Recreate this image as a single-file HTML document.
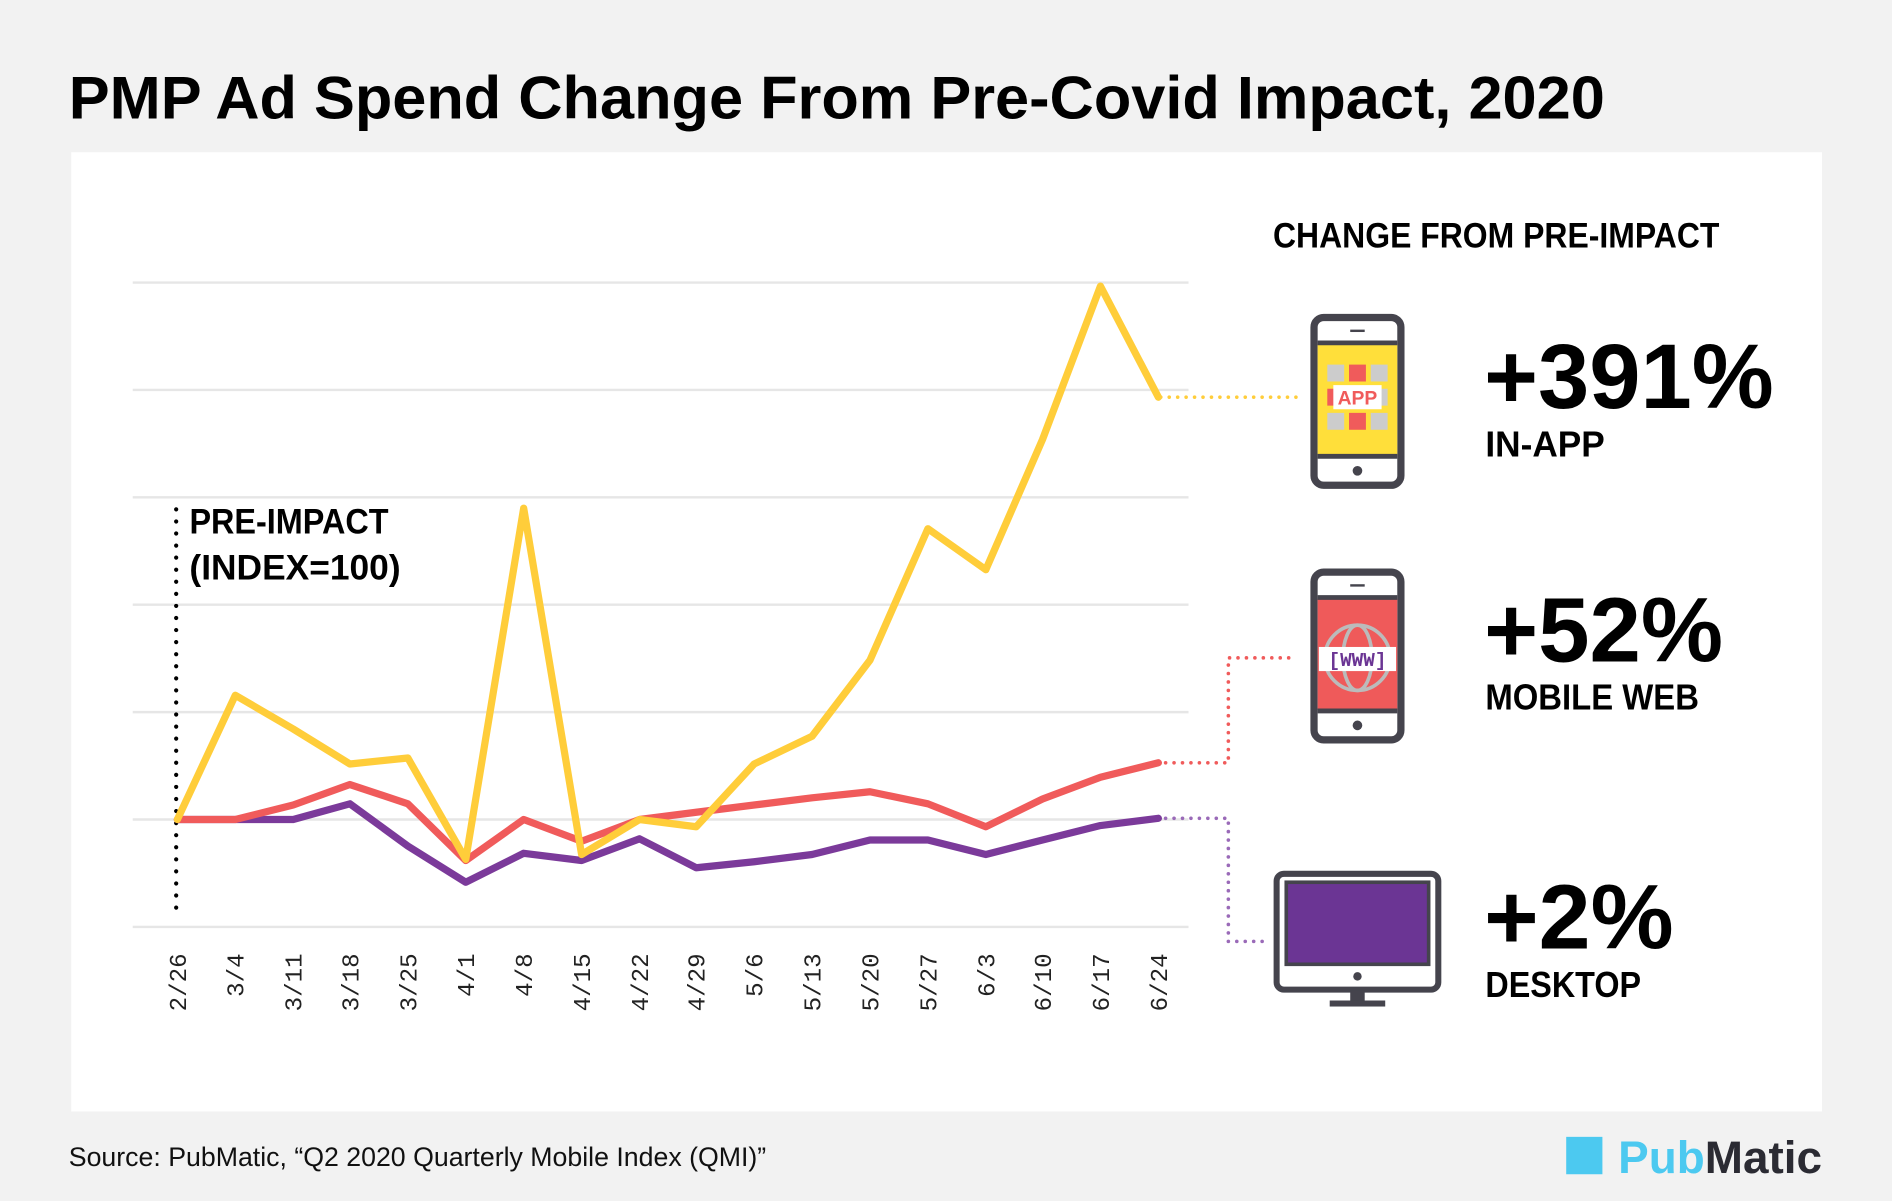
<!DOCTYPE html>
<html><head><meta charset="utf-8"><style>html,body{margin:0;padding:0;background:#f2f2f2}svg{display:block}</style></head>
<body>
<svg width="1892" height="1201" viewBox="0 0 1568 995" xmlns="http://www.w3.org/2000/svg" font-family="'Liberation Sans Narrow','Liberation Sans',sans-serif">
<rect width="1568" height="995" fill="#f2f2f2"/>
<text x="57" y="98" font-size="50" font-weight="bold" fill="#000" textLength="1273" lengthAdjust="spacingAndGlyphs">PMP Ad Spend Change From Pre-Covid Impact, 2020</text>
<rect x="59" y="126" width="1451" height="795" fill="#fff"/>
<g stroke="#e6e6e6" stroke-width="2">
<line x1="110" y1="234" x2="985" y2="234"/><line x1="110" y1="323" x2="985" y2="323"/><line x1="110" y1="412" x2="985" y2="412"/><line x1="110" y1="501" x2="985" y2="501"/><line x1="110" y1="590" x2="985" y2="590"/><line x1="110" y1="679" x2="985" y2="679"/><line x1="110" y1="768" x2="985" y2="768"/>
</g>
<line x1="146" y1="422" x2="146" y2="756" stroke="#000" stroke-width="3.5" stroke-dasharray="0 10" stroke-linecap="round"/>
<text x="157" y="442" font-size="29" font-weight="bold" textLength="165" lengthAdjust="spacingAndGlyphs">PRE-IMPACT</text>
<text x="157" y="480" font-size="29" font-weight="bold" textLength="175" lengthAdjust="spacingAndGlyphs">(INDEX=100)</text>
<g fill="none" stroke-width="6" stroke-linejoin="round" stroke-linecap="round">
<polyline stroke="#7b3a9a" points="147,679 195,679 243,679 290,666 338,701 386,731 434,707 482,713 530,695 577,719 625,714 673,708 721,696 769,696 817,708 864,696 912,684 960,678"/>
<polyline stroke="#f05b5b" points="147,679 195,679 243,667 290,650 338,666 386,713 434,679 482,697 530,679 577,673 625,667 673,661 721,656 769,666 817,685 864,662 912,644 960,632"/>
<polyline stroke="#ffcd3a" points="147,679 195,576 243,604 290,633 338,628 386,712 434,421 482,708 530,679 577,685 625,633 673,610 721,547 769,438 817,472 864,364 912,237 960,329"/>
</g>
<g font-family="'Liberation Mono','DejaVu Sans Mono',monospace" font-size="20" fill="#222" text-anchor="end">
<text transform="translate(154,790) rotate(-90)">2/26</text><text transform="translate(202,790) rotate(-90)">3/4</text><text transform="translate(250,790) rotate(-90)">3/11</text><text transform="translate(297,790) rotate(-90)">3/18</text><text transform="translate(345,790) rotate(-90)">3/25</text><text transform="translate(393,790) rotate(-90)">4/1</text><text transform="translate(441,790) rotate(-90)">4/8</text><text transform="translate(489,790) rotate(-90)">4/15</text><text transform="translate(537,790) rotate(-90)">4/22</text><text transform="translate(584,790) rotate(-90)">4/29</text><text transform="translate(632,790) rotate(-90)">5/6</text><text transform="translate(680,790) rotate(-90)">5/13</text><text transform="translate(728,790) rotate(-90)">5/20</text><text transform="translate(776,790) rotate(-90)">5/27</text><text transform="translate(824,790) rotate(-90)">6/3</text><text transform="translate(871,790) rotate(-90)">6/10</text><text transform="translate(919,790) rotate(-90)">6/17</text><text transform="translate(967,790) rotate(-90)">6/24</text>
</g>
<g fill="none" stroke-width="3" stroke-dasharray="0 7" stroke-linecap="round">
<polyline stroke="#ffcd3a" points="962,329 1075,329"/>
<polyline stroke="#f05b5b" points="966,632 1018,632 1018,545 1075,545"/>
<polyline stroke="#9a6ab8" points="966,678 1018,678 1018,780 1048,780"/>
</g>
<text x="1055" y="205" font-size="29" font-weight="bold" textLength="370" lengthAdjust="spacingAndGlyphs">CHANGE FROM PRE-IMPACT</text>
<!-- phone 1 -->
<rect x="1089" y="263" width="72" height="139" rx="8" fill="#fff" stroke="#45444d" stroke-width="6"/>
<rect x="1092" y="285" width="66" height="92" fill="#ffdf3a"/>
<line x1="1092" y1="284" x2="1158" y2="284" stroke="#45444d" stroke-width="4"/><line x1="1092" y1="378" x2="1158" y2="378" stroke="#45444d" stroke-width="4"/>
<line x1="1119" y1="274" x2="1131" y2="274" stroke="#45444d" stroke-width="2"/><circle cx="1125" cy="390" r="4" fill="#45444d"/>
<g fill="#ccc"><rect x="1100" y="302" width="14" height="14"/><rect x="1136" y="302" width="14" height="14"/><rect x="1100" y="342" width="14" height="14"/><rect x="1136" y="342" width="14" height="14"/><rect x="1136" y="322" width="14" height="14"/></g>
<g fill="#f05b5b"><rect x="1118" y="302" width="14" height="14"/><rect x="1118" y="342" width="14" height="14"/><rect x="1100" y="322" width="10" height="14"/></g>
<rect x="1105" y="319" width="40" height="20" fill="#fff"/>
<text x="1125" y="335" font-size="16" font-weight="bold" fill="#f05b5b" text-anchor="middle" font-family="'Liberation Sans',sans-serif">APP</text>
<!-- phone 2 -->
<rect x="1089" y="474" width="72" height="139" rx="8" fill="#fff" stroke="#45444d" stroke-width="6"/>
<rect x="1092" y="496" width="66" height="92" fill="#ef5a5a"/>
<line x1="1092" y1="495" x2="1158" y2="495" stroke="#45444d" stroke-width="4"/><line x1="1092" y1="589" x2="1158" y2="589" stroke="#45444d" stroke-width="4"/>
<line x1="1119" y1="485" x2="1131" y2="485" stroke="#45444d" stroke-width="2"/><circle cx="1125" cy="601" r="4" fill="#45444d"/>
<circle cx="1125" cy="545" r="27" fill="none" stroke="#bbb" stroke-width="3"/>
<ellipse cx="1125" cy="545" rx="12" ry="27" fill="none" stroke="#bbb" stroke-width="3"/>
<rect x="1093" y="536" width="64" height="20" fill="#fff"/>
<text x="1125" y="552" font-size="16" font-weight="bold" fill="#6b3594" text-anchor="middle" font-family="'Liberation Mono',monospace">[WWW]</text>
<!-- desktop -->
<rect x="1058" y="724" width="134" height="96" rx="6" fill="#fff" stroke="#45444d" stroke-width="5"/>
<rect x="1066" y="731" width="118" height="68" fill="#6b3594" stroke="#45444d" stroke-width="3"/>
<circle cx="1125" cy="809" r="3.5" fill="#45444d"/>
<rect x="1119" y="821" width="12" height="10" fill="#45444d"/><rect x="1102" y="829" width="46" height="5" fill="#45444d"/>
<g font-weight="bold" fill="#000">
<text x="1230" y="338" font-size="76" textLength="240" lengthAdjust="spacingAndGlyphs">+391%</text>
<text x="1231" y="378" font-size="30" textLength="99" lengthAdjust="spacingAndGlyphs">IN-APP</text>
<text x="1230" y="548" font-size="76" textLength="198" lengthAdjust="spacingAndGlyphs">+52%</text>
<text x="1231" y="588" font-size="30" textLength="177" lengthAdjust="spacingAndGlyphs">MOBILE WEB</text>
<text x="1230" y="786" font-size="76" textLength="157" lengthAdjust="spacingAndGlyphs">+2%</text>
<text x="1231" y="826" font-size="30" textLength="129" lengthAdjust="spacingAndGlyphs">DESKTOP</text>
</g>
<text x="57" y="966" font-size="22" fill="#111" textLength="578" lengthAdjust="spacingAndGlyphs">Source: PubMatic, “Q2 2020 Quarterly Mobile Index (QMI)”</text>
<rect x="1298" y="942" width="30" height="31" fill="#4cc9f0"/>
<text x="1341" y="972" font-size="38" font-weight="bold" font-family="'Liberation Sans',sans-serif" textLength="169" lengthAdjust="spacingAndGlyphs"><tspan fill="#4cc9f0">Pub</tspan><tspan fill="#2b2b33">Matic</tspan></text>
</svg>
</body></html>
